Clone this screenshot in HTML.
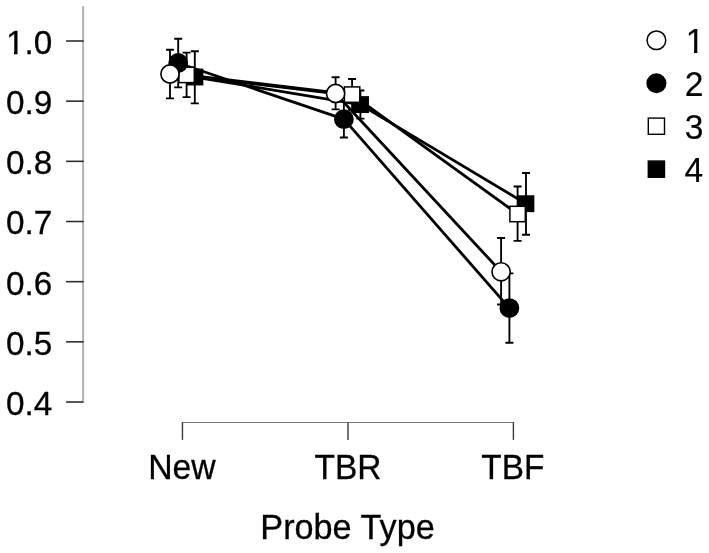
<!DOCTYPE html><html><head><meta charset="utf-8"><title>Probe Type</title>
<style>html,body{margin:0;padding:0;background:#fff}svg{display:block}text{font-family:"Liberation Sans",Arial,Helvetica,sans-serif;fill:#000;stroke:#000;stroke-width:0.3px}</style></head><body>
<svg width="709" height="553" viewBox="0 0 709 553">
<rect width="709" height="553" fill="#fff"/>
<g fill="none">
<path d="M83.1 6 V401.2" stroke="#b2b2b2" stroke-width="2"/>
<path d="M66.1 41.00 H83.7" stroke="#2e2e2e" stroke-width="1.6"/>
<path d="M66.1 101.17 H83.7" stroke="#2e2e2e" stroke-width="1.6"/>
<path d="M66.1 161.34 H83.7" stroke="#2e2e2e" stroke-width="1.6"/>
<path d="M66.1 221.51 H83.7" stroke="#2e2e2e" stroke-width="1.6"/>
<path d="M66.1 281.68 H83.7" stroke="#2e2e2e" stroke-width="1.6"/>
<path d="M66.1 341.85 H83.7" stroke="#2e2e2e" stroke-width="1.6"/>
<path d="M66.1 402.02 H83.7" stroke="#2e2e2e" stroke-width="1.6"/>
<path d="M182 422.5 H514" stroke="#777" stroke-width="1"/>
<path d="M182.45 422.2 V439.9" stroke="#3a3a3a" stroke-width="1.4"/>
<path d="M348.0 422.2 V439.9" stroke="#3a3a3a" stroke-width="1.4"/>
<path d="M513.4 422.2 V439.9" stroke="#3a3a3a" stroke-width="1.4"/>
</g>
<clipPath id="c1"><rect x="0" y="23.85" width="60" height="27.25"/><rect x="14.0" y="23.85" width="3.5" height="32"/><rect x="24.4" y="23.85" width="36" height="32"/></clipPath>
<text x="5.9" y="53.85" font-size="33.95" textLength="46.3" lengthAdjust="spacingAndGlyphs" clip-path="url(#c1)">1.0</text>
<text x="5.9" y="114.02" font-size="33.95" textLength="46.3" lengthAdjust="spacingAndGlyphs">0.9</text>
<text x="5.9" y="174.19" font-size="33.95" textLength="46.3" lengthAdjust="spacingAndGlyphs">0.8</text>
<text x="5.9" y="234.36" font-size="33.95" textLength="46.3" lengthAdjust="spacingAndGlyphs">0.7</text>
<text x="5.9" y="294.53" font-size="33.95" textLength="46.3" lengthAdjust="spacingAndGlyphs">0.6</text>
<text x="5.9" y="354.70" font-size="33.95" textLength="46.3" lengthAdjust="spacingAndGlyphs">0.5</text>
<text x="5.9" y="414.87" font-size="33.95" textLength="46.3" lengthAdjust="spacingAndGlyphs">0.4</text>
<text x="148.2" y="478.75" font-size="34.74" textLength="67.5" lengthAdjust="spacingAndGlyphs">New</text>
<text x="314.5" y="478.75" font-size="34.74" textLength="67" lengthAdjust="spacingAndGlyphs">TBR</text>
<text x="481.3" y="478.75" font-size="34.74" textLength="63" lengthAdjust="spacingAndGlyphs">TBF</text>
<text x="260.3" y="539.4" font-size="34.74" textLength="174.5" lengthAdjust="spacingAndGlyphs">Probe Type</text>
<g stroke="#000" fill="none">
<path d="M194.8 77.0 L360.4 104.6 L526.0 203.7" stroke-width="2.8" stroke-linejoin="round"/>
<path d="M186.6 74.9 L352.1 94.6 L517.6 214.0" stroke-width="2.8" stroke-linejoin="round"/>
<path d="M178.2 63.0 L343.9 119.2 L509.4 308.1" stroke-width="2.8" stroke-linejoin="round"/>
<path d="M170.0 74.0 L335.6 93.5 L501.1 271.8" stroke-width="2.8" stroke-linejoin="round"/>
<path d="M194.8 51.2 V103.4 M190.8 51.2 H198.8 M190.8 103.4 H198.8" stroke-width="1.85"/>
<path d="M360.4 90.5 V118.6 M356.4 90.5 H364.4 M356.4 118.6 H364.4" stroke-width="1.85"/>
<path d="M526.0 173.0 V234.7 M522.0 173.0 H530.0 M522.0 234.7 H530.0" stroke-width="1.85"/>
<path d="M186.6 52.6 V97.1 M182.6 52.6 H190.6 M182.6 97.1 H190.6" stroke-width="1.85"/>
<path d="M352.1 79.0 V109.8 M348.1 79.0 H356.1 M348.1 109.8 H356.1" stroke-width="1.85"/>
<path d="M517.6 186.5 V240.8 M513.6 186.5 H521.6 M513.6 240.8 H521.6" stroke-width="1.85"/>
<path d="M178.2 38.7 V87.3 M174.2 38.7 H182.2 M174.2 87.3 H182.2" stroke-width="1.85"/>
<path d="M343.9 100.9 V137.5 M339.9 100.9 H347.9 M339.9 137.5 H347.9" stroke-width="1.85"/>
<path d="M509.4 273.3 V342.7 M505.4 273.3 H513.4 M505.4 342.7 H513.4" stroke-width="1.85"/>
<path d="M170.0 49.7 V98.3 M166.0 49.7 H174.0 M166.0 98.3 H174.0" stroke-width="1.85"/>
<path d="M335.6 77.2 V109.3 M331.6 77.2 H339.6 M331.6 109.3 H339.6" stroke-width="1.85"/>
<path d="M501.1 238.0 V304.5 M497.1 238.0 H505.1 M497.1 304.5 H505.1" stroke-width="1.85"/>
</g>
<rect x="187.2" y="69.3" width="15.4" height="15.4" fill="#000" stroke="#000" stroke-width="1.5"/>
<rect x="352.8" y="96.9" width="15.4" height="15.4" fill="#000" stroke="#000" stroke-width="1.5"/>
<rect x="518.2" y="196.0" width="15.4" height="15.4" fill="#000" stroke="#000" stroke-width="1.5"/>
<rect x="178.9" y="67.2" width="15.4" height="15.4" fill="#fff" stroke="#000" stroke-width="1.5"/>
<rect x="344.4" y="86.9" width="15.4" height="15.4" fill="#fff" stroke="#000" stroke-width="1.5"/>
<rect x="509.9" y="206.3" width="15.4" height="15.4" fill="#fff" stroke="#000" stroke-width="1.5"/>
<circle cx="178.2" cy="63.0" r="9.1" fill="#000" stroke="#000" stroke-width="1.6"/>
<circle cx="343.9" cy="119.2" r="9.1" fill="#000" stroke="#000" stroke-width="1.6"/>
<circle cx="509.4" cy="308.1" r="9.1" fill="#000" stroke="#000" stroke-width="1.6"/>
<circle cx="170.0" cy="74.0" r="9.1" fill="#fff" stroke="#000" stroke-width="1.6"/>
<circle cx="335.6" cy="93.5" r="9.1" fill="#fff" stroke="#000" stroke-width="1.6"/>
<circle cx="501.1" cy="271.8" r="9.1" fill="#fff" stroke="#000" stroke-width="1.6"/>
<circle cx="656.4" cy="40.25" r="9.35" fill="#fff" stroke="#000" stroke-width="1.5"/>
<circle cx="656.4" cy="83.25" r="9.35" fill="#000" stroke="#000" stroke-width="1.4"/>
<rect x="648.3" y="118.10000000000001" width="16.2" height="16.2" fill="#fff" stroke="#000" stroke-width="1.4"/>
<rect x="648.3" y="161.05" width="16.2" height="16.2" fill="#000" stroke="#000" stroke-width="1.4"/>
<clipPath id="c2"><rect x="680" y="22.70" width="29" height="27.25"/><rect x="694.0" y="22.70" width="3.3" height="32"/></clipPath>
<text x="685.7" y="52.70" font-size="34.96" textLength="18.7" lengthAdjust="spacingAndGlyphs" style="stroke-width:0.15px" clip-path="url(#c2)">1</text>
<text x="684.7" y="95.70" font-size="34.96" textLength="18.7" lengthAdjust="spacingAndGlyphs" style="stroke-width:0.15px">2</text>
<text x="684.7" y="138.65" font-size="34.96" textLength="18.7" lengthAdjust="spacingAndGlyphs" style="stroke-width:0.15px">3</text>
<text x="684.5" y="181.60" font-size="34.96" textLength="18.7" lengthAdjust="spacingAndGlyphs" style="stroke-width:0.15px">4</text>
</svg></body></html>
